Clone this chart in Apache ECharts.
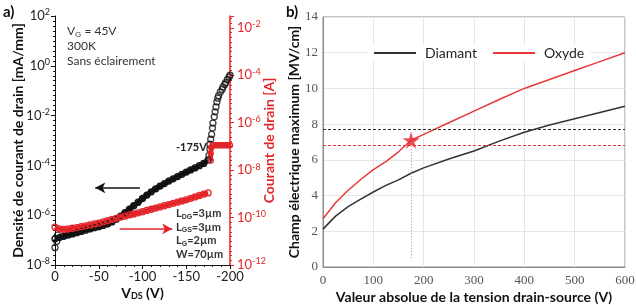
<!DOCTYPE html>
<html>
<head>
<meta charset="utf-8">
<script src="https://cdn.jsdelivr.net/npm/echarts@6/dist/echarts.min.js"></script>
<style>
  html, body { margin: 0; padding: 0; background: #fff; }
  #chart { width: 636px; height: 305px; }
</style>
</head>
<body>
<div id="chart"></div>
<script>
// panel a : values are decade exponents (log10)
const vdsMain = [0, -5, -10, -15, -20, -25, -30, -35, -40, -45, -50, -55, -60, -65, -70, -75, -80, -85,
  -90, -95, -100, -105, -110, -115, -120, -125, -130, -135, -140, -145, -150, -155, -160, -165, -170, -175];
const densityMain = [-6.95, -6.9, -6.85, -6.8, -6.75, -6.7, -6.65, -6.6, -6.55, -6.5, -6.46, -6.41, -6.35, -6.27,
  -6.16, -6.04, -5.9, -5.76, -5.62, -5.48, -5.33, -5.19, -5.06, -4.94, -4.83, -4.73, -4.63, -4.54, -4.45,
  -4.36, -4.27, -4.18, -4.1, -4.01, -3.92, -3.78];
const vdsLow = [0, -2, -3];
const densityLow = [-7.3, -7.05, -6.8];
const vdsBreak = [-176, -177, -177, -178, -179, -180, -180.5, -182, -183, -184, -185, -186, -187, -189, -191,
  -192, -194, -195, -197, -199, -200];
const densityBreak = [-3.6, -3.35, -3.15, -2.95, -2.75, -2.5, -2.3, -2.05, -1.85, -1.65, -1.45, -1.3, -1.2,
  -1.05, -0.95, -0.85, -0.75, -0.68, -0.55, -0.45, -0.38];
const currentMain = [-10.4, -10.48, -10.5, -10.48, -10.45, -10.42, -10.38, -10.35, -10.31, -10.27, -10.23, -10.18,
  -10.13, -10.08, -10.03, -9.98, -9.94, -9.89, -9.85, -9.8, -9.75, -9.7, -9.65, -9.6, -9.55, -9.5, -9.45,
  -9.4, -9.35, -9.3, -9.25, -9.19, -9.13, -9.07, -9.01, -8.96];
const vdsCompliance = [-178, -178, -178.5, -180, -182, -184, -186, -188, -190, -192, -194, -196, -198, -200];
const currentCompliance = [-7.6, -7.3, -7.05, -6.95, -6.95, -6.95, -6.95, -6.95, -6.95, -6.95, -6.95, -6.95,
  -6.95, -6.95];

// panel b
const tension = [0, 25, 50, 75, 100, 125, 150, 175, 200, 250, 300, 350, 400, 450, 500, 550, 600];
const diamant = [2.12, 2.85, 3.38, 3.8, 4.2, 4.57, 4.88, 5.25, 5.55, 6.05, 6.5, 7.05, 7.55, 7.95, 8.3, 8.65, 9.0];
const oxyde = [2.7, 3.6, 4.3, 4.9, 5.45, 5.9, 6.45, 7.1, 7.43, 8.08, 8.73, 9.38, 10.0, 10.5, 11.0, 11.5, 12.0];
const seuilDiamant = 7.73;
const seuilOxyde = 6.83;
const pointOxyde = [175, 7.1];

const RED = '#e3262a';
const FONT = 'Lato';
const zip = (xs, ys) => xs.map((x, i) => [x, ys[i]]);
const pow10 = v => (v % 2 === 0 ? '10{sup|' + v + '}' : '');
const STAR = 'path://M50,0 L61,35 L98,35 L68,57 L79,91 L50,70 L21,91 L32,57 L2,35 L39,35 Z';
const ring = c => ({ color: 'rgba(0,0,0,0)', borderColor: c, borderWidth: 1.3 });

const chart = echarts.init(document.getElementById('chart'));

chart.setOption({
  animation: false,
  textStyle: { fontFamily: FONT },
  grid: [
    { left: 55, right: 406, top: 16, bottom: 40, outerBoundsMode: 'none' },
    { left: 323, right: 11, top: 17, bottom: 38, show: true, borderColor: '#8a8a8a', borderWidth: 1, outerBoundsMode: 'none' }
  ],
  legend: {
    left: 368, top: 45,
    itemWidth: 42, itemHeight: 2, itemGap: 16, icon: 'rect',
    backgroundColor: '#fff', padding: [1, 6],
    textStyle: { fontSize: 14, color: '#222', fontFamily: FONT, padding: [0, 0, 0, 4] },
    data: ['Diamant', 'Oxyde']
  },
  xAxis: [
    {
      gridIndex: 0, type: 'value', min: -200, max: 0, interval: 50, inverse: true,
      name: 'V{sub|DS} (V)', nameLocation: 'middle', nameGap: 20, nameMoveOverlap: false,
      nameTextStyle: { fontSize: 14, fontWeight: 'bold', color: '#111', lineHeight: 16,
        rich: { sub: { fontSize: 9, fontWeight: 'bold', lineHeight: 9, verticalAlign: 'bottom', color: '#111' } } },
      axisLine: { onZero: false, lineStyle: { color: '#111' } },
      axisTick: { length: 4, lineStyle: { color: '#111' } },
      minorTick: { show: true, splitNumber: 5, length: 2, lineStyle: { color: '#111' } },
      splitLine: { show: false },
      axisLabel: { fontSize: 13, color: '#222', margin: 5 }
    },
    {
      gridIndex: 1, type: 'value', min: 0, max: 600, interval: 100,
      name: 'Valeur absolue de la tension drain-source (V)', nameLocation: 'middle', nameGap: 23, nameMoveOverlap: false,
      nameTextStyle: { fontSize: 14, fontWeight: 'bold', color: '#111' },
      axisLine: { onZero: false, lineStyle: { color: '#8a8a8a' } },
      axisTick: { show: false },
      splitLine: { show: true, lineStyle: { color: '#e6e6e6' } },
      axisLabel: { fontSize: 13, color: '#555', fontFamily: 'Liberation Serif', margin: 7 }
    }
  ],
  yAxis: [
    {
      gridIndex: 0, type: 'value', min: -8, max: 2, interval: 2,
      name: 'Densité de courant de drain [mA/mm]', nameLocation: 'middle', nameGap: 30, nameMoveOverlap: false,
      nameTextStyle: { fontSize: 14, fontWeight: 'bold', color: '#111' },
      axisLine: { show: true, onZero: false, lineStyle: { color: '#111' } },
      axisTick: { length: 4, lineStyle: { color: '#111' } },
      minorTick: { show: true, splitNumber: 10, length: 2, lineStyle: { color: '#111' } },
      splitLine: { show: false },
      axisLabel: { fontSize: 13, color: '#222', margin: 5, lineHeight: 16, formatter: pow10,
        rich: { sup: { fontSize: 9, lineHeight: 9, verticalAlign: 'top', color: '#222' } } }
    },
    {
      gridIndex: 0, type: 'value', min: -12, max: -1.5, interval: 2, position: 'right',
      name: 'Courant de drain [A]', nameLocation: 'middle', nameGap: 32, nameMoveOverlap: false,
      nameTextStyle: { fontSize: 14, fontWeight: 'bold', color: RED },
      axisLine: { show: true, onZero: false, lineStyle: { color: RED, width: 1.5 } },
      axisTick: { length: 4, lineStyle: { color: RED } },
      minorTick: { show: true, splitNumber: 10, length: 2, lineStyle: { color: RED } },
      splitLine: { show: false },
      axisLabel: { fontSize: 13, color: RED, margin: 7, lineHeight: 16, formatter: pow10, showMaxLabel: false,
        rich: { sup: { fontSize: 9, lineHeight: 9, verticalAlign: 'top', color: RED } } }
    },
    {
      gridIndex: 1, type: 'value', min: 0, max: 14, interval: 2,
      name: 'Champ électrique maximum [MV/cm]', nameLocation: 'middle', nameGap: 22, nameMoveOverlap: false,
      nameTextStyle: { fontSize: 14, fontWeight: 'bold', color: '#111' },
      axisLine: { show: true, onZero: false, lineStyle: { color: '#8a8a8a' } },
      axisTick: { show: false },
      splitLine: { show: true, lineStyle: { color: '#e6e6e6' } },
      axisLabel: { fontSize: 13, color: '#555', fontFamily: 'Liberation Serif', margin: 5 }
    }
  ],
  series: [
    {
      type: 'line', xAxisIndex: 0, yAxisIndex: 0, data: zip(vdsMain, densityMain),
      symbol: 'circle', symbolSize: 6, itemStyle: ring('#111'),
      lineStyle: { width: 5, color: '#111' },
      markLine: {
        silent: true, symbol: ['none', 'arrow'], symbolSize: [8, 10],
        lineStyle: { color: '#111', width: 1.5, type: 'solid' }, label: { show: false },
        data: [[{ coord: [-97, -4.9] }, { coord: [-46, -4.9] }]]
      }
    },
    {
      type: 'scatter', xAxisIndex: 0, yAxisIndex: 0, data: zip(vdsLow, densityLow),
      symbol: 'circle', symbolSize: 6, itemStyle: ring('#111')
    },
    {
      type: 'scatter', xAxisIndex: 0, yAxisIndex: 0, data: zip(vdsBreak, densityBreak),
      symbol: 'circle', symbolSize: 6, itemStyle: ring('#111')
    },
    {
      type: 'line', xAxisIndex: 0, yAxisIndex: 1, data: zip(vdsMain, currentMain),
      symbol: 'circle', symbolSize: 6, itemStyle: ring(RED),
      lineStyle: { width: 4.5, color: RED },
      markLine: {
        silent: true, symbol: ['none', 'arrow'], symbolSize: [8, 10],
        lineStyle: { color: RED, width: 1.5, type: 'solid' }, label: { show: false },
        data: [[{ coord: [-74, -10.48] }, { coord: [-134, -10.48] }]]
      }
    },
    {
      type: 'line', xAxisIndex: 0, yAxisIndex: 1, data: zip(vdsCompliance, currentCompliance),
      symbol: 'circle', symbolSize: 5, itemStyle: ring(RED),
      lineStyle: { width: 4.5, color: RED }
    },
    {
      name: 'Diamant', type: 'line', xAxisIndex: 1, yAxisIndex: 2, data: zip(tension, diamant),
      showSymbol: false, color: '#333', lineStyle: { width: 1.5 },
      markLine: {
        silent: true, symbol: 'none', label: { show: false },
        lineStyle: { color: '#333', type: [3, 2], width: 1 },
        data: [{ yAxis: seuilDiamant }]
      }
    },
    {
      name: 'Oxyde', type: 'line', xAxisIndex: 1, yAxisIndex: 2, data: zip(tension, oxyde),
      showSymbol: false, color: '#e8383a', lineStyle: { width: 1.5 },
      markLine: {
        silent: true, symbol: 'none', label: { show: false },
        data: [
          { yAxis: seuilOxyde, lineStyle: { color: '#e8383a', type: [3, 2], width: 1 } },
          [{ coord: pointOxyde, lineStyle: { color: '#999', type: [1, 2], width: 1 } }, { coord: [pointOxyde[0], 0.4] }]
        ]
      }
    },
    {
      type: 'scatter', xAxisIndex: 1, yAxisIndex: 2, data: [pointOxyde],
      symbol: STAR, symbolSize: 17, itemStyle: { color: RED }, z: 5
    }
  ],
  graphic: [
    { type: 'text', left: 3, top: 5, style: { text: 'a)', font: 'bold 15px ' + FONT, fill: '#111' } },
    { type: 'text', left: 286, top: 5, style: { text: 'b)', font: 'bold 15px ' + FONT, fill: '#111' } },
    { type: 'text', left: 67, top: 24, style: {
      text: 'V{sub|G} = 45V\n300K\nSans éclairement', font: '12px ' + FONT, fill: '#333', lineHeight: 15,
      rich: { sub: { fontSize: 8, lineHeight: 8, verticalAlign: 'bottom', fill: '#333' } } } },
    { type: 'text', left: 176, top: 207, style: {
      text: 'L{sub|DG}=3µm\nL{sub|GS}=3µm\nL{sub|G}=2µm\nW=70µm', font: 'bold 11px ' + FONT, fill: '#333', lineHeight: 13.5,
      rich: { sub: { fontSize: 7, fontWeight: 'bold', lineHeight: 7, verticalAlign: 'bottom', fill: '#333' } } } },
    { type: 'text', left: 176, top: 142, style: { text: '-175V', font: 'bold 11px ' + FONT, fill: '#222' } }
  ]
});
</script>
</body>
</html>
